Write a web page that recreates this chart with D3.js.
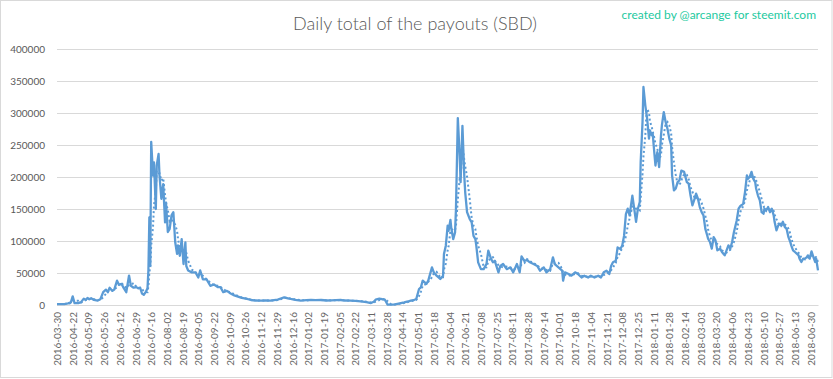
<!DOCTYPE html>
<html>
<head>
<meta charset="utf-8">
<script src="https://cdn.jsdelivr.net/npm/d3@7"></script>
<style>
  html, body { margin: 0; padding: 0; background: #fff; }
  svg { display: block; font-family: Lato, "Open Sans", sans-serif; }
</style>
</head>
<body>
<svg id="chart" width="833" height="379"></svg>
<script>
// ---- data ----
const chartTitle = "Daily total of the payouts (SBD)";
const credit = "created by @arcange for steemit.com";

// category axis labels, one every 17 categories (days)
const tickLabels = [
  "2016-03-30","2016-04-22","2016-05-09","2016-05-26","2016-06-12","2016-06-29",
  "2016-07-16","2016-08-02","2016-08-19","2016-09-05","2016-09-22","2016-10-09",
  "2016-10-26","2016-11-12","2016-11-29","2016-12-16","2017-01-02","2017-01-19",
  "2017-02-05","2017-02-22","2017-03-11","2017-03-28","2017-04-14","2017-05-01",
  "2017-05-18","2017-06-04","2017-06-21","2017-07-08","2017-07-25","2017-08-11",
  "2017-08-28","2017-09-14","2017-10-01","2017-10-18","2017-11-04","2017-11-21",
  "2017-12-08","2017-12-25","2018-01-11","2018-01-28","2018-02-14","2018-03-03",
  "2018-03-20","2018-04-06","2018-04-23","2018-05-10","2018-05-27","2018-06-13",
  "2018-06-30"
];
const labelEvery = 17;
const lastCategory = 824;
const yTicks = [0, 50000, 100000, 150000, 200000, 250000, 300000, 350000, 400000];

// [category index (day), daily payouts in SBD]
const payouts2016 = [
  [0,1500],[4,1500],[8,1500],[12,2500],[15,4000],[17,13500],[19,3000],[23,3000],[26,4500],
  [29,10000],[31,8000],[33,11000],[35,9000],[37,10500],[40,8000],[44,7000],[47,9000],
  [50,20000],[53,24000],[55,20000],[57,27000],[60,22000],[62,24000],[65,38000],[67,32000],
  [70,33000],[72,27000],[75,20000],[78,46000],[80,30000],[83,27000],[86,28000],[88,26000],
  [90,27000],[92,18000],[94,16000],[96,20000],[98,26000],[99,55000],[100,137000],[101,61000],
  [102,255000],[104,202000],[105,223000],[107,150000],[108,218000],[110,236000],[111,202000],
  [113,166000],[115,189000],[117,129000],[118,160000],[120,114000],[122,119000],[124,140000],
  [126,145000],[128,98000],[130,80000],[131,93000],[133,77000],[135,103000],[137,64000],
  [139,98000],[140,61000],[142,54000],[146,51000],[150,51000],[153,43000],[155,54000],
  [158,40000],[162,40000],[166,30000],[170,32000],[174,28000],[177,28000],[180,20000],
  [184,22000],[188,18000],[192,15000],[196,13000],[200,11000],[203,10400],[207,9000],
  [210,7800],[215,7000],[221,6800],[226,7000],[231,6800],[235,7500],[239,8300],[243,10500],
  [246,12000],[250,10500],[253,9400],[258,8000],[264,6800],[270,7500]
];
const payouts2017 = [
  [275,7800],[280,7500],[286,7800],[292,7000],[297,7300],[302,7500],[307,7800],[312,7000],
  [318,6800],[323,6300],[329,5700],[335,4500],[340,3100],[343,5000],[345,8300],[349,9900],
  [352,9000],[355,8300],[358,500],[362,700],[366,1000],[371,2500],[376,4000],[380,5500],
  [383,6800],[386,7500],[389,9400],[392,25000],[394,27600],[396,38000],[400,33000],[402,38000],
  [406,58800],[408,51000],[411,45800],[415,40600],[418,45800],[419,79700],[421,92700],
  [423,124000],[424,116000],[426,133000],[427,119000],[429,103000],[431,113500],[432,150000],
  [434,292000],[436,233000],[437,192000],[439,280000],[441,202000],[442,176000],[444,145000],
  [447,134000],[449,129000],[451,108000],[453,103000],[454,92700],[456,66700],[459,56000],
  [462,56000],[465,64000],[467,85000],[470,72000],[472,66700],[474,69000],[478,51000],
  [480,61000],[483,64000],[487,56000],[491,58800],[494,51000],[498,64000],[501,51000],
  [503,76000],[506,69000],[509,70000],[512,66700],[516,64000],[520,61000],[523,53600],
  [527,58800],[530,51000],[534,56000],[537,74500],[539,64000],[543,58800],[547,53600],
  [548,38000],[550,51000],[554,48400],[557,45800],[561,51000],[564,48400],[568,43000],
  [571,45800],[575,43000],[578,45800],[582,43000],[586,45800],[589,43000],[592,51000],
  [595,53600],[598,48400],[600,61000],[602,66700],[605,69000],[607,90000],[610,87500],
  [612,92700],[614,108000],[616,142000],[618,150500],[620,140000],[623,171000],[625,150500],
  [627,130000],[629,150500],[631,161000],[632,223000],[634,286000],[635,340600]
];
const payouts2018 = [
  [637,312000],[638,301500],[639,291000],[641,260000],[642,273000],[644,265000],[645,268000],
  [647,234000],[648,218000],[650,239000],[652,215600],[654,265000],[655,281000],[657,301500],
  [659,286000],[661,275500],[663,260000],[665,249500],[666,202600],[668,179000],[670,182000],
  [672,192000],[674,195000],[676,210000],[679,208000],[682,192000],[684,189500],[686,171000],
  [688,155700],[691,168700],[692,174000],[694,166000],[696,153000],[698,145000],[700,140000],
  [702,119000],[704,109000],[705,103600],[707,98400],[709,88000],[711,106000],[713,101000],
  [715,85400],[718,88000],[720,82800],[723,77600],[725,85400],[727,93200],[729,88000],
  [731,98400],[733,114000],[736,132000],[738,150500],[740,154700],[743,158000],[745,176500],
  [747,202600],[748,197000],[750,200000],[752,208000],[754,197000],[756,192000],[757,182000],
  [759,171000],[761,163500],[763,145000],[765,142700],[766,150500],[768,148000],[770,153000],
  [772,145000],[774,150500],[776,140000],[777,130000],[779,116700],[781,124500],[783,127000],
  [784,124500],[786,130000],[788,122000],[790,119000],[792,106000],[794,98400],[795,93200],
  [797,85400],[799,82800],[801,80200],[803,77600],[804,72400],[806,67200],[808,72400],
  [810,72400],[812,75000],[813,77600],[815,72400],[817,83800],[819,75000],[821,67200],
  [822,72400],[824,54100]
];
const movingAveragePeriod = 7; // days, Excel-style trendline

// ---- build ----
const series = payouts2016.concat(payouts2017, payouts2018).map(([d, v]) => ({ d, v }));
const trend = series
  .filter(p => p.d >= movingAveragePeriod - 1)
  .map(p => {
    const win = series.filter(q => q.d > p.d - movingAveragePeriod && q.d <= p.d);
    return { d: p.d, v: d3.mean(win, q => q.v) };
  });

const svg = d3.select("#chart");
const W = 833, H = 379;
const plot = { left: 57, right: 818, top: 49, bottom: 305 };

svg.append("rect")
  .attr("x", 0.5).attr("y", 0.5).attr("width", W - 1.5).attr("height", H - 2)
  .attr("fill", "#fff").attr("stroke", "#D9D9D9");

const x = d3.scaleLinear().domain([0, lastCategory]).range([plot.left, plot.right]);
const y = d3.scaleLinear().domain([0, 400000]).range([plot.bottom, plot.top]);

// y axis + gridlines
const yAxis = d3.axisLeft(y).tickValues(yTicks).tickFormat(d3.format("d"))
  .tickSize(-(plot.right - plot.left)).tickPadding(12);
const gy = svg.append("g").attr("transform", `translate(${plot.left},0)`).call(yAxis);
gy.select(".domain").remove();
gy.selectAll(".tick line").attr("stroke", "#D9D9D9").attr("stroke-width", 1);
gy.selectAll(".tick text").attr("fill", "#595959").style("font-size", "10px")
  .style("font-family", "Lato, sans-serif");

// x axis
const tickDays = tickLabels.map((_, k) => k * labelEvery);
const xAxis = d3.axisBottom(x).tickValues(tickDays).tickFormat((d, i) => tickLabels[i])
  .tickSize(0);
const gx = svg.append("g").attr("transform", `translate(0,${plot.bottom})`).call(xAxis);
gx.select(".domain").attr("stroke", "#D9D9D9");
gx.selectAll(".tick text")
  .attr("transform", "rotate(-90)")
  .attr("x", -7).attr("y", 0).attr("dy", "0.35em")
  .style("text-anchor", "end")
  .attr("fill", "#666666").style("font-size", "10px")
  .style("font-family", "Lato, sans-serif");

// trendline (dotted moving average)
const line = d3.line().x(p => x(p.d)).y(p => y(p.v));
svg.append("path").datum(trend)
  .attr("d", line).attr("fill", "none")
  .attr("stroke", "#5B9BD5").attr("stroke-width", 2)
  .attr("stroke-dasharray", "2 2.5");

// main series
svg.append("path").datum(series)
  .attr("d", line).attr("fill", "none")
  .attr("stroke", "#5B9BD5").attr("stroke-width", 2.3)
  .attr("stroke-linejoin", "round");

// title
svg.append("text").attr("x", 415).attr("y", 30).attr("text-anchor", "middle")
  .attr("fill", "#595959").style("font-size", "18px").style("font-weight", 300)
  .text(chartTitle);

// credit
svg.append("text").attr("x", 816).attr("y", 19).attr("text-anchor", "end")
  .attr("fill", "#1DC9A0").style("font-size", "12px").text(credit);
</script>
</body>
</html>
